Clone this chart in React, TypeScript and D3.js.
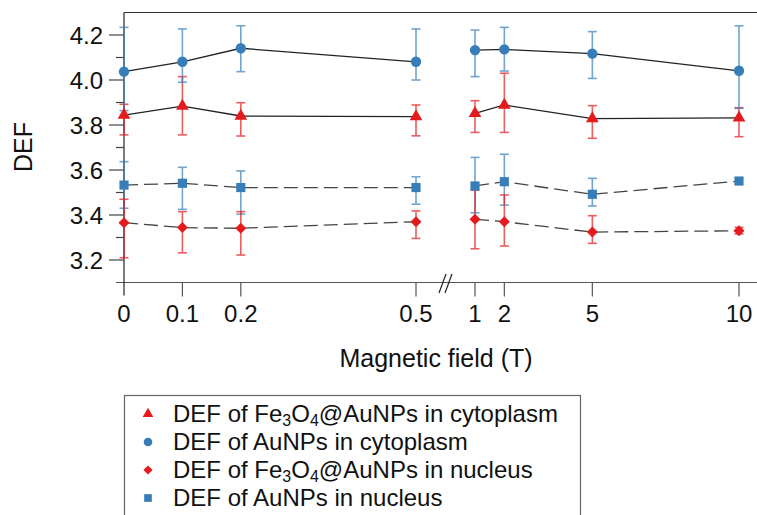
import React from "react";
import * as d3 from "d3";

const fields = [0, 0.1, 0.2, 0.5, 1, 2, 5, 10];
const tickLabels = ["0", "0.1", "0.2", "0.5", "1", "2", "5", "10"];
const yMajor = [3.2, 3.4, 3.6, 3.8, 4.0, 4.2];
const yMinor = [3.3, 3.5, 3.7, 3.9, 4.1];

const feCyto = [3.844, 3.884, 3.84, 3.837, 3.852, 3.889, 3.828, 3.832];
const feCytoHi = [3.892, 4.015, 3.899, 3.889, 3.908, 4.03, 3.886, 3.877];
const feCytoLo = [3.756, 3.756, 3.751, 3.752, 3.767, 3.767, 3.741, 3.748];

const auCyto = [4.037, 4.081, 4.141, 4.081, 4.133, 4.136, 4.117, 4.041];
const auCytoHi = [4.234, 4.227, 4.241, 4.227, 4.222, 4.234, 4.215, 4.241];
const auCytoLo = [3.864, 3.99, 4.037, 4.0, 4.015, 4.04, 4.007, 3.874];

const feNuc = [3.366, 3.344, 3.341, 3.37, 3.381, 3.37, 3.324, 3.33];
const feNucHi = [3.47, 3.415, 3.415, 3.418, 3.511, 3.489, 3.397, 3.345];
const feNucLo = [3.21, 3.232, 3.222, 3.296, 3.25, 3.262, 3.274, 3.316];

const auNuc = [3.533, 3.541, 3.522, 3.522, 3.529, 3.548, 3.492, 3.551];
const auNucHi = [3.637, 3.612, 3.596, 3.57, 3.656, 3.67, 3.563, 3.551];
const auNucLo = [3.43, 3.425, 3.404, 3.448, 3.41, 3.444, 3.44, 3.551];

const RED = "#e41a1c";
const BLUE = "#377eb8";
const FONT = "'Liberation Sans', Arial, Helvetica, sans-serif";

type Series = {
  vals: number[];
  hi: number[];
  lo: number[];
  color: string;
  symbol: string;
  dashed: boolean;
};

const series: Series[] = [
  { vals: auNuc, hi: auNucHi, lo: auNucLo, color: BLUE, symbol: "square", dashed: true },
  { vals: feNuc, hi: feNucHi, lo: feNucLo, color: RED, symbol: "diamond", dashed: true },
  { vals: feCyto, hi: feCytoHi, lo: feCytoLo, color: RED, symbol: "triangle", dashed: false },
  { vals: auCyto, hi: auCytoHi, lo: auCytoLo, color: BLUE, symbol: "circle", dashed: false },
];

const legendItems = [
  { symbol: "triangle", color: RED, pre: "DEF of Fe", fe: true, post: "@AuNPs in cytoplasm" },
  { symbol: "circle", color: BLUE, pre: "DEF of AuNPs in cytoplasm", fe: false, post: "" },
  { symbol: "diamond", color: RED, pre: "DEF of Fe", fe: true, post: "@AuNPs in nucleus" },
  { symbol: "square", color: BLUE, pre: "DEF of AuNPs in nucleus", fe: false, post: "" },
];

function symbolPath(kind: string, scale = 1): { d: string; rot: number } {
  if (kind === "circle") return { d: d3.symbol(d3.symbolCircle, 84 * scale)()!, rot: 0 };
  if (kind === "square") return { d: d3.symbol(d3.symbolSquare, 84 * scale)()!, rot: 0 };
  if (kind === "diamond") return { d: d3.symbol(d3.symbolSquare, 60 * scale)()!, rot: 45 };
  return { d: d3.symbol(d3.symbolTriangle, 70 * scale)()!, rot: 0 };
}

export default function App() {
  const W = 757;
  const H = 515;
  const x = d3.scaleLinear().domain([0, 0.5, 1, 10]).range([124, 416, 475, 739]);
  const y = d3.scaleLinear().domain([3.1, 4.3]).range([282.5, 12.5]);
  const x0 = x(0);
  const yBottom = y(3.1);
  const yTop = y(4.3);

  const groups = [
    [0, 1, 2, 3],
    [4, 5, 6, 7],
  ];

  return (
    <svg
      width={W}
      height={H}
      style={{ position: "absolute", left: 0, top: 0, background: "#fff" }}
      fontFamily={FONT}
    >
      {/* frame */}
      <line x1={x0} x2={W} y1={yTop} y2={yTop} stroke="#333" strokeWidth={1.2} />
      <line x1={116} x2={W} y1={yBottom} y2={yBottom} stroke="#555" strokeWidth={1.2} />
      <line x1={x0} x2={x0} y1={yTop} y2={yBottom + 13} stroke="#222" strokeWidth={1.2} />

      {/* y ticks */}
      {yMajor.map((v) => (
        <g key={"ym" + v}>
          <line x1={x0 - 15} x2={x0} y1={y(v)} y2={y(v)} stroke="#444" strokeWidth={1.2} />
          <text x={103} y={y(v) + 8.5} fontSize={24} textAnchor="end" fill="#111">
            {v.toFixed(1)}
          </text>
        </g>
      ))}
      {yMinor.map((v) => (
        <line key={"yn" + v} x1={x0 - 8} x2={x0} y1={y(v)} y2={y(v)} stroke="#444" strokeWidth={1.2} />
      ))}

      {/* x ticks */}
      {fields.map((f, i) => (
        <g key={"xt" + i}>
          {i > 0 && (
            <line x1={x(f)} x2={x(f)} y1={yBottom} y2={yBottom + 14} stroke="#555" strokeWidth={1.2} />
          )}
          <text x={x(f)} y={322} fontSize={24} textAnchor="middle" fill="#111">
            {tickLabels[i]}
          </text>
        </g>
      ))}

      {/* axis break */}
      <line x1={439} y1={293} x2={446} y2={274} stroke="#222" strokeWidth={1.2} />
      <line x1={445} y1={293} x2={452} y2={274} stroke="#222" strokeWidth={1.2} />

      {/* axis titles */}
      <text x={436} y={367} fontSize={25} textAnchor="middle" fill="#111">
        Magnetic field (T)
      </text>
      <text
        transform={`translate(32,147) rotate(-90)`}
        fontSize={25}
        textAnchor="middle"
        fill="#111"
      >
        DEF
      </text>

      {/* lines */}
      {series.map((s, si) =>
        groups.map((g, gi) => {
          const line = d3
            .line<number>()
            .x((i) => x(fields[i]))
            .y((i) => y(s.vals[i]));
          return (
            <path
              key={`l${si}-${gi}`}
              d={line(g)!}
              fill="none"
              stroke={s.dashed ? "#444" : "#222"}
              strokeWidth={1.3}
              strokeDasharray={s.dashed ? "14,6" : undefined}
            />
          );
        })
      )}

      {/* error bars */}
      {series.map((s, si) =>
        fields.map((f, i) => {
          const cx = x(f);
          if (Math.abs(s.hi[i] - s.lo[i]) < 0.005) return null;
          return (
            <g key={`e${si}-${i}`} stroke={s.color} strokeWidth={1.6} opacity={0.7}>
              <line x1={cx} x2={cx} y1={y(s.hi[i])} y2={y(s.lo[i])} />
              <line x1={cx - 4.5} x2={cx + 4.5} y1={y(s.hi[i])} y2={y(s.hi[i])} />
              <line x1={cx - 4.5} x2={cx + 4.5} y1={y(s.lo[i])} y2={y(s.lo[i])} />
            </g>
          );
        })
      )}

      {/* markers */}
      {series.map((s, si) =>
        fields.map((f, i) => {
          const p = symbolPath(s.symbol);
          return (
            <path
              key={`m${si}-${i}`}
              d={p.d}
              fill={s.color}
              transform={`translate(${x(f)},${y(s.vals[i])}) rotate(${p.rot})`}
            />
          );
        })
      )}

      {/* legend */}
      <rect x={124.5} y={395.5} width={456} height={140} fill="#fff" stroke="#666" strokeWidth={1.2} />
      {legendItems.map((it, i) => {
        const base = 422 + i * 28;
        const p = symbolPath(it.symbol, 0.7);
        return (
          <g key={"lg" + i}>
            <path d={p.d} fill={it.color} transform={`translate(148,${base - 8}) rotate(${p.rot})`} />
            <text x={173} y={base} fontSize={24} fill="#111">
              {it.fe ? (
                <>
                  {it.pre}
                  <tspan fontSize={16} baselineShift="-25%">3</tspan>
                  O
                  <tspan fontSize={16} baselineShift="-25%">4</tspan>
                  {it.post}
                </>
              ) : (
                it.pre
              )}
            </text>
          </g>
        );
      })}
    </svg>
  );
}
